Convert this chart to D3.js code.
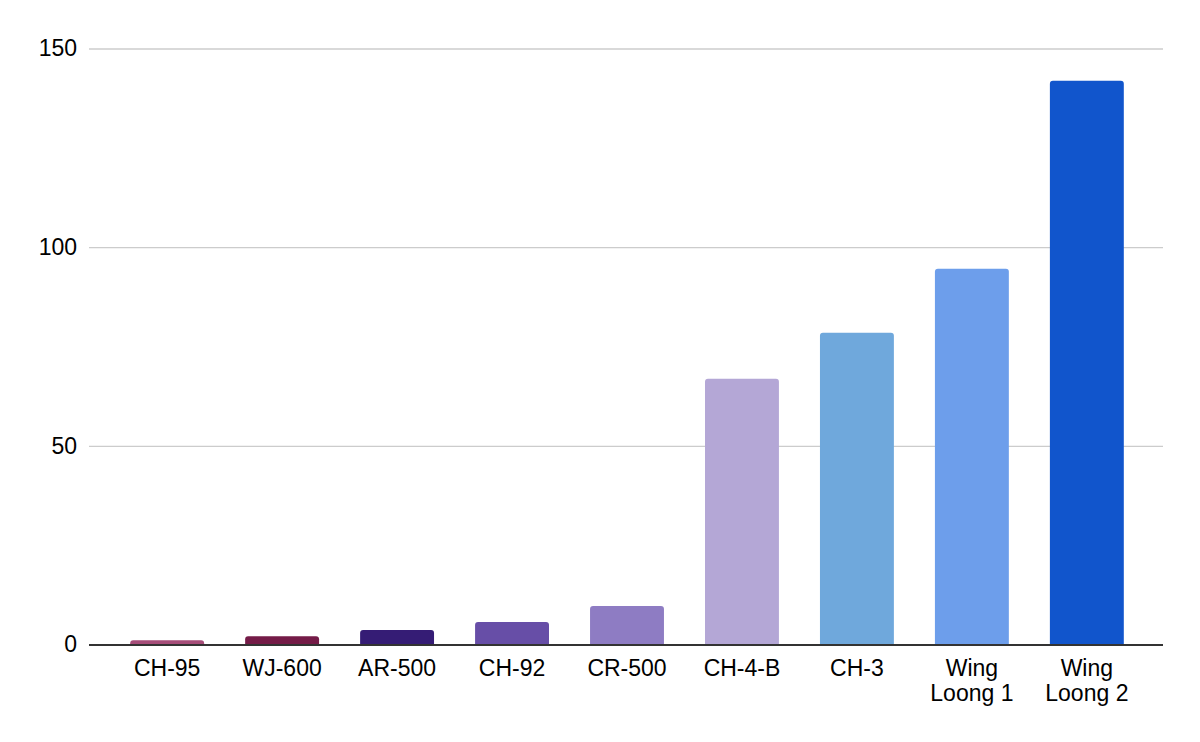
<!DOCTYPE html>
<html>
<head>
<meta charset="utf-8">
<script src="https://cdn.jsdelivr.net/npm/d3@7"></script>
<style>
  html, body { margin: 0; padding: 0; background: #fff; }
  svg { display: block; font-family: Arial, "Liberation Sans", sans-serif; }
</style>
</head>
<body>
<svg id="chart" width="1200" height="742"></svg>
<script>
const categories = ["CH-95", "WJ-600", "AR-500", "CH-92", "CR-500", "CH-4-B", "CH-3", "Wing Loong 1", "Wing Loong 2"];
const values = [1.2, 2.2, 3.8, 5.8, 9.8, 67, 78.6, 94.7, 142];
const colors = ["#a64d79", "#741b47", "#351c75", "#674ea7", "#8e7cc3", "#b4a7d6", "#6fa8dc", "#6d9eeb", "#1155cc"];
const yTicks = [0, 50, 100, 150];

const svg = d3.select("#chart");
const gridLeft = 89, gridRight = 1163;
const y = d3.scaleLinear().domain([0, 150]).range([645, 49]);
const x = d3.scaleBand().domain(categories).range([109.5, 1144.5]).paddingInner(0.357).paddingOuter(0.18);

// gridlines
svg.append("g").selectAll("line").data(yTicks.filter(d => d !== 0)).join("line")
  .attr("x1", gridLeft).attr("x2", gridRight)
  .attr("y1", d => y(d)).attr("y2", d => y(d))
  .attr("stroke", "#cccccc").attr("stroke-width", 1.3);

// y axis labels
const yAxis = d3.axisLeft(y).tickValues(yTicks).tickSize(0).tickPadding(0);
const yg = svg.append("g").attr("transform", `translate(77,0)`).call(yAxis);
yg.select(".domain").remove();
yg.selectAll("text").attr("font-size", 23).attr("fill", "#000")
  .attr("font-family", "Arial, 'Liberation Sans', sans-serif").attr("dy", "0.3em");

// bars with rounded top corners
const r = 3;
function barPath(d, i) {
  const x0 = x(d), w = x.bandwidth();
  const yt = y(values[i]), yb = y(0);
  const rr = Math.min(r, (yb - yt));
  return `M${x0},${yb} L${x0},${yt + rr} Q${x0},${yt} ${x0 + rr},${yt} L${x0 + w - rr},${yt} Q${x0 + w},${yt} ${x0 + w},${yt + rr} L${x0 + w},${yb} Z`;
}
svg.append("g").selectAll("path").data(categories).join("path")
  .attr("d", (d, i) => barPath(d, i))
  .attr("fill", (d, i) => colors[i]);

// x axis baseline
svg.append("line").attr("x1", gridLeft).attr("x2", gridRight)
  .attr("y1", y(0)).attr("y2", y(0))
  .attr("stroke", "#333333").attr("stroke-width", 2);

// x labels
const xAxis = d3.axisBottom(x).tickSize(0).tickPadding(0);
const xg = svg.append("g").attr("transform", `translate(0,${y(0)})`).call(xAxis);
xg.select(".domain").remove();
xg.selectAll(".tick text").each(function(d) {
  const t = d3.select(this);
  t.text(null).attr("font-size", 23).attr("fill", "#000")
    .attr("font-family", "Arial, 'Liberation Sans', sans-serif").attr("dy", null).attr("y", 0);
  const words = d.split(" ");
  const lines = words.length > 1 ? [words[0], words.slice(1).join(" ")] : [d];
  lines.forEach((ln, k) => {
    t.append("tspan").attr("x", 0).attr("y", 31 + k * 24.5).text(ln);
  });
});
</script>
</body>
</html>
